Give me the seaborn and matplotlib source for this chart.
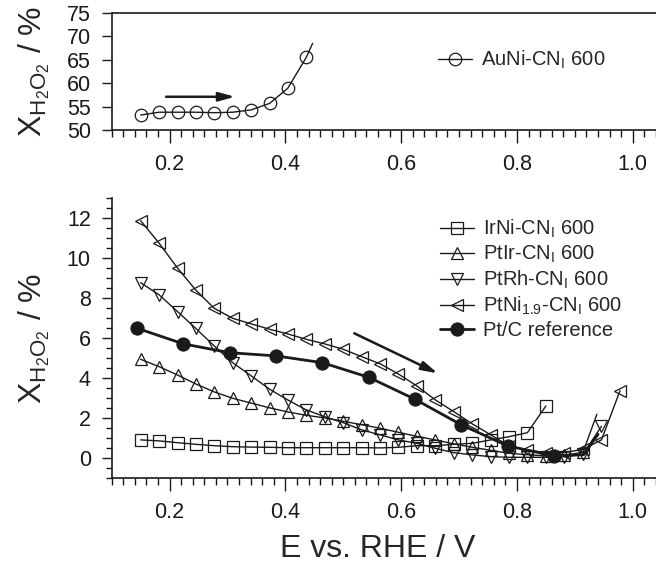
import seaborn as sns
import matplotlib.pyplot as plt
from matplotlib.ticker import MultipleLocator

# values (E in V vs RHE, X in %)
au_e = [0.150, 0.182, 0.214, 0.245, 0.277, 0.309, 0.341, 0.373, 0.404, 0.436, 0.447]
au_x = [53.2, 53.8, 53.8, 53.8, 53.7, 53.8, 54.3, 55.7, 58.9, 65.5, 68.5]

e_grid = [0.150, 0.182, 0.214, 0.245, 0.277, 0.309, 0.341, 0.373, 0.404, 0.436,
          0.468, 0.500, 0.532, 0.564, 0.595, 0.627, 0.659, 0.691, 0.723, 0.755,
          0.786, 0.818, 0.850, 0.882, 0.914, 0.946, 0.978]

irni_x = [0.92, 0.87, 0.78, 0.70, 0.63, 0.58, 0.56, 0.55, 0.53, 0.53, 0.53, 0.53,
          0.53, 0.52, 0.55, 0.63, 0.63, 0.70, 0.75, 0.92, 1.08, 1.28, 2.62]
ptir_x = [4.95, 4.58, 4.16, 3.72, 3.32, 3.00, 2.76, 2.52, 2.32, 2.15, 2.02, 1.85,
          1.68, 1.50, 1.30, 1.10, 0.92, 0.72, 0.55, 0.40, 0.25, 0.18, 0.12, 0.15,
          0.30]
ptir_tail_e = [0.938]
ptir_tail_x = [2.2]
ptrh_x = [8.78, 8.17, 7.33, 6.50, 5.62, 4.78, 4.12, 3.45, 2.92, 2.42, 2.08, 1.78,
          1.42, 1.17, 0.92, 0.75, 0.50, 0.28, 0.17, 0.08, 0.05, 0.05, 0.05, 0.08,
          0.20, 1.60]
ptni_x = [11.88, 10.75, 9.50, 8.42, 7.50, 7.00, 6.72, 6.45, 6.22, 5.95, 5.72, 5.45,
          5.08, 4.72, 4.22, 3.62, 2.92, 2.33, 1.72, 1.17, 0.62, 0.42, 0.28, 0.28,
          0.45, 0.92, 3.38]
ptc_e = [0.144, 0.224, 0.304, 0.384, 0.464, 0.544, 0.624, 0.704, 0.784, 0.864, 0.915, 0.940]
ptc_x = [6.50, 5.72, 5.28, 5.12, 4.78, 4.05, 2.95, 1.67, 0.62, 0.12, 0.18, 1.20]

sns.set_theme(style='ticks')
plt.rcParams['font.family'] = ['Liberation Sans', 'DejaVu Sans']
plt.rcParams['mathtext.fontset'] = 'custom'
plt.rcParams['mathtext.rm'] = 'Liberation Sans'
plt.rcParams['mathtext.it'] = 'Liberation Sans'

W, H = 656, 565
fig = plt.figure(figsize=(W / 100, H / 100), dpi=100)
ax_top = fig.add_axes([111.7 / W, 1 - 130 / H, 550 / W, 117 / H])
ax_bot = fig.add_axes([111.7 / W, 1 - 478.3 / H, 550 / W, 280 / H])

ylab = r'$\mathregular{X_{H_2O_2}}$ / %'
open_kw = dict(color='k', lw=1.0, mfc='none', mec='k', mew=0.9, ms=9)

# top panel
sns.lineplot(x=au_e, y=au_x, ax=ax_top, marker='o', markevery=slice(0, 10),
             label=r'AuNi-CN$_\mathregular{I}$ 600', **open_kw)
ax_top.annotate('', xy=(0.313, 57.1), xytext=(0.194, 57.1),
                arrowprops=dict(arrowstyle='-|>,head_length=0.8,head_width=0.22',
                                lw=1.8, color='k', shrinkA=0, shrinkB=0))
ax_top.set_ylim(50, 75)
ax_top.yaxis.set_major_locator(MultipleLocator(5))
ax_top.spines['right'].set_visible(False)
ax_top.legend(loc='center left', bbox_to_anchor=(438 / W, 1 - 60 / H),
              bbox_transform=fig.transFigure, frameon=False, fontsize=14.5,
              handlelength=1.7, handletextpad=0.45, borderpad=0, borderaxespad=0)

# bottom panel
sns.lineplot(x=e_grid[:23], y=irni_x, ax=ax_bot, marker='s',
             label=r'IrNi-CN$_\mathregular{I}$ 600', **open_kw)
sns.lineplot(x=e_grid[:25] + ptir_tail_e, y=ptir_x + ptir_tail_x, ax=ax_bot,
             marker='^', markevery=slice(0, 25),
             label=r'PtIr-CN$_\mathregular{I}$ 600', **open_kw)
sns.lineplot(x=e_grid[:26], y=ptrh_x, ax=ax_bot, marker='v',
             label=r'PtRh-CN$_\mathregular{I}$ 600', **open_kw)
sns.lineplot(x=e_grid, y=ptni_x, ax=ax_bot, marker='<',
             label=r'PtNi$_\mathregular{1.9}$-CN$_\mathregular{I}$ 600', **open_kw)
sns.lineplot(x=ptc_e, y=ptc_x, ax=ax_bot, marker='o', markevery=slice(0, 10),
             color='k', lw=2.0, mfc='k', mec='k', ms=9.5,
             label='Pt/C reference')
ax_bot.annotate('', xy=(0.663, 4.25), xytext=(0.519, 6.25),
                arrowprops=dict(arrowstyle='-|>,head_length=0.8,head_width=0.22',
                                lw=1.8, color='k', shrinkA=0, shrinkB=0))
ax_bot.set_ylim(-1, 13)
ax_bot.yaxis.set_major_locator(MultipleLocator(2))
ax_bot.yaxis.set_minor_locator(MultipleLocator(0.5))
ax_bot.set_yticks([0, 2, 4, 6, 8, 10, 12])
ax_bot.spines['right'].set_visible(False)
ax_bot.spines['top'].set_visible(False)
ax_bot.set_xlabel('E vs. RHE / V', fontsize=23)
ax_bot.xaxis.set_label_coords(0.483, -0.2)
ax_bot.legend(loc='upper left', bbox_to_anchor=(440 / W, 1 - 218 / H),
              bbox_transform=fig.transFigure, frameon=False, fontsize=14.5,
              handlelength=1.7, handletextpad=0.45, labelspacing=0.18,
              borderpad=0, borderaxespad=0)

for ax in (ax_top, ax_bot):
    ax.set_xlim(0.1, 1.05)
    ax.xaxis.set_major_locator(MultipleLocator(0.2))
    ax.xaxis.set_minor_locator(MultipleLocator(0.02))
    ax.set_ylabel(ylab, fontsize=23)
    ax.yaxis.set_label_coords(-0.108, 0.5)
    ax.tick_params(axis='both', which='major', direction='out', labelsize=15.5,
                   color='k', labelcolor='k', width=1.0)
    ax.tick_params(axis='x', which='major', length=9, pad=8)
    ax.tick_params(axis='x', which='minor', length=4.8, width=1.0, color='k')
    ax.tick_params(axis='y', which='major', length=7, pad=8)
    ax.tick_params(axis='y', which='minor', length=4, width=1.0, color='k')
    for s in ax.spines.values():
        s.set_color('k')
        s.set_linewidth(1.2)

fig.savefig('out.png', dpi=100)
